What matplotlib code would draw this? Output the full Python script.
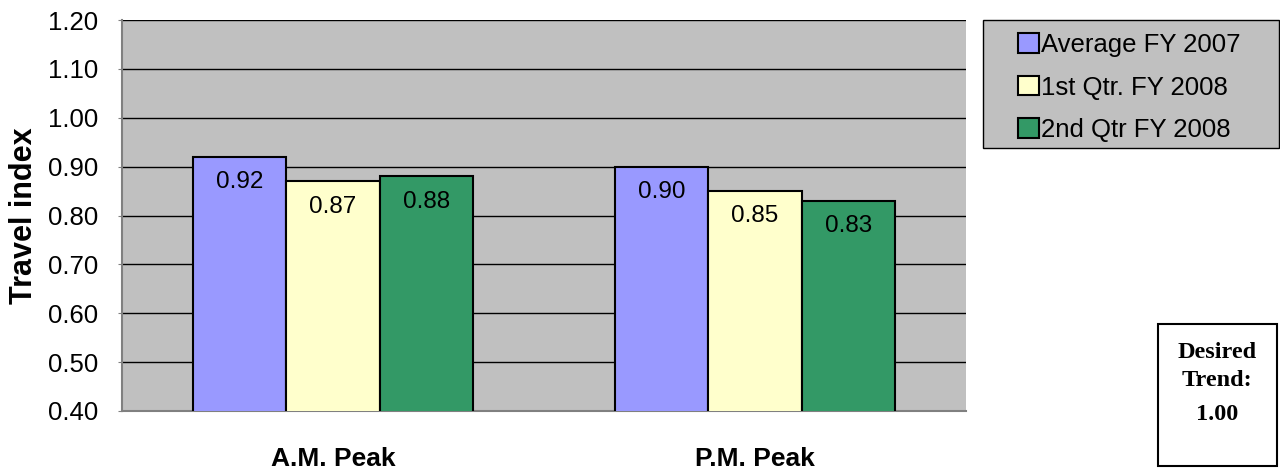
import matplotlib
matplotlib.use('Agg')
import matplotlib.pyplot as plt
from matplotlib.patches import Rectangle
import numpy as np

# Travel index by peak period
periods = ['A.M. Peak', 'P.M. Peak']
series_names = ['Average FY 2007', '1st Qtr. FY 2008', '2nd Qtr FY 2008']
avg_fy2007 = [0.92, 0.90]
q1_fy2008 = [0.87, 0.85]
q2_fy2008 = [0.88, 0.83]
y_ticks = [0.40, 0.50, 0.60, 0.70, 0.80, 0.90, 1.00, 1.10, 1.20]
desired_trend = 1.00

colors = ['#9999FF', '#FFFFCC', '#339966']
plt.rcParams['font.family'] = ['Liberation Sans', 'DejaVu Sans']

W, H = 1280, 475
fig = plt.figure(figsize=(W / 100, H / 100), dpi=100)
ax = fig.add_axes([122 / W, 1 - 411 / H, 844 / W, 391 / H])
ax.set_facecolor('#C0C0C0')

x = np.arange(len(periods))
width = 0.2216
values = [avg_fy2007, q1_fy2008, q2_fy2008]
for i, (name, vals, col) in enumerate(zip(series_names, values, colors)):
    pos = x + (i - 1) * width
    ax.bar(pos, vals, width, color=col, edgecolor='black', linewidth=1.5,
           label=name, zorder=3)
    for px, v in zip(pos, vals):
        ax.text(px, v - 0.052, f'{v:.2f}', ha='center', va='center',
                fontsize=17.5, zorder=4)

ax.set_xlim(-0.5, 1.5)
ax.set_ylim(0.4, 1.2)
ax.set_yticks(y_ticks)
ax.set_yticklabels([f'{t:.2f}' for t in y_ticks], fontsize=18.5)
ax.yaxis.grid(True, color='black', linewidth=1, zorder=0)
ax.set_axisbelow(True)
ax.tick_params(axis='y', length=3, pad=14, color='#808080')
ax.tick_params(axis='x', length=0, pad=26)
ax.set_xticks(x)
ax.set_xticklabels(periods, fontsize=19, fontweight='bold')
ax.set_ylabel('Travel index', fontsize=22, fontweight='bold')
ax.yaxis.set_label_coords(-83 / 844, 0.5)

for side in ['top', 'right']:
    ax.spines[side].set_visible(False)
for side in ['left', 'bottom']:
    ax.spines[side].set_color('#808080')
    ax.spines[side].set_linewidth(1.5)

# Legend panel
fig.patches.append(Rectangle((983 / W, 1 - 148 / H), 296 / W, 128 / H,
                             transform=fig.transFigure, facecolor='#C0C0C0',
                             edgecolor='black', linewidth=1, zorder=1))
leg = fig.legend(loc='upper left', bbox_to_anchor=(1018 / W, 1 - 33 / H),
                 fontsize=18.5, frameon=False, handlelength=0.8,
                 handleheight=0.8, handletextpad=0.1, borderpad=0,
                 labelspacing=0.72, borderaxespad=0)
leg.set_zorder(2)

# Target value box
fig.patches.append(Rectangle((1158 / W, 1 - 466 / H), 119 / W, 142 / H,
                             transform=fig.transFigure, facecolor='white',
                             edgecolor='black', linewidth=1.5, zorder=1))
trend_font = dict(ha='center', va='center', fontsize=17.5, fontweight='bold',
                  family='Liberation Serif', zorder=2)
fig.text(1217 / W, 1 - 352 / H, 'Desired', **trend_font)
fig.text(1217 / W, 1 - 381 / H, 'Trend:', **trend_font)
fig.text(1217 / W, 1 - 414 / H, f'{desired_trend:.2f}', **trend_font)

fig.savefig('out.png', dpi=100)
